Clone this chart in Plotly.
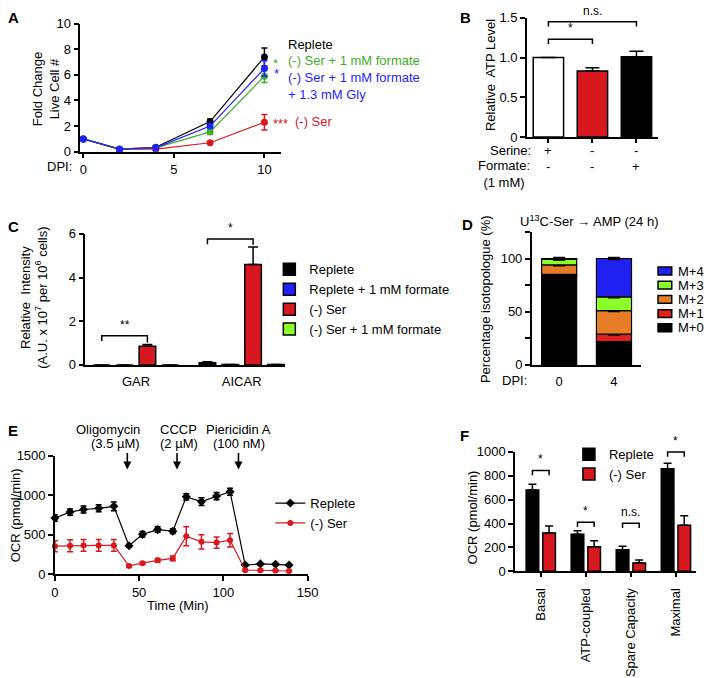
import plotly.graph_objects as go
import numpy as np

W, H = 717, 678
FONT = "Arial, Liberation Sans, sans-serif"
FS = 13

# ---------------- DATA ----------------
# Panel A: fold change live cell number vs days post infection
a_dpi = [0, 2, 4, 7, 10]
a_replete = [1.0, 0.2, 0.35, 2.35, 7.4]
a_replete_err = [0.05, 0.03, 0.1, 0.2, 0.7]
a_ser_formate = [1.0, 0.2, 0.3, 1.55, 5.9]
a_ser_formate_err = [0.05, 0.03, 0.05, 0.2, 0.5]
a_ser_formate_gly = [1.0, 0.2, 0.3, 2.0, 6.5]
a_ser_formate_gly_err = [0.05, 0.03, 0.05, 0.15, 0.6]
a_ser = [1.0, 0.2, 0.2, 0.7, 2.3]
a_ser_err = [0.05, 0.03, 0.03, 0.1, 0.6]

# Panel B: relative ATP level
b_conditions = ["Replete", "(-) Ser", "(-) Ser + formate"]
b_atp = [1.0, 0.83, 1.01]
b_atp_err = [0.0, 0.04, 0.07]
b_serine = ["+", "-", "-"]
b_formate = ["-", "-", "+"]
b_sig_pairs = [(0, 1, 1.23, "*"), (0, 2, 1.45, "n.s.")]

# Panel C: GAR / AICAR relative intensity
c_metabolites = ["GAR", "AICAR"]
c_series = ["Replete", "Replete + 1 mM formate", "(-) Ser", "(-) Ser + 1 mM formate"]
c_values = [[0.0, 0.1], [0.0, 0.02], [0.85, 4.6], [0.0, 0.02]]
c_errors = [[0.0, 0.05], [0.0, 0.0], [0.08, 0.8], [0.0, 0.0]]
c_sig = [(0, 1.34, "**"), (1, 5.77, "*")]

# Panel D: isotopologue distribution of AMP from U13C-Ser
d_dpi = ["0", "4"]
d_isotopologues = ["M+0", "M+1", "M+2", "M+3", "M+4"]
d_m0 = [84.0, 22.0]
d_m1 = [1.0, 7.0]
d_m2 = [9.0, 22.0]
d_m3 = [5.5, 13.0]
d_m4 = [0.5, 36.0]
d_err = [1.0, 1.0]

# Panel E: OCR time course
e_time = [0, 9, 17, 26, 35, 44, 52, 61, 70, 78, 87, 96, 104, 113, 122, 131, 139]
e_replete = [712, 787, 820, 835, 860, 360, 505, 565, 545, 980, 920, 990, 1045, 115, 130, 125, 115]
e_replete_err = [40, 40, 45, 45, 55, 20, 35, 35, 30, 40, 50, 45, 45, 10, 10, 10, 10]
e_ser = [355, 360, 365, 365, 365, 105, 140, 175, 200, 480, 410, 400, 430, 50, 50, 45, 40]
e_ser_err = [70, 75, 75, 75, 75, 15, 15, 25, 30, 120, 90, 70, 85, 12, 10, 10, 10]
e_injections = ["Oligomycin", "CCCP", "Piericidin A"]
e_doses = ["(3.5 µM)", "(2 µM)", "(100 nM)"]
e_injection_time = [43, 72.5, 109]

# Panel F: OCR parameters
f_params = ["Basal", "ATP-coupled", "Spare Capacity", "Maximal"]
f_replete = [680, 310, 180, 860]
f_replete_err = [50, 30, 30, 45]
f_ser = [320, 205, 70, 385]
f_ser_err = [60, 50, 25, 80]
f_sig = [(0, 845, "*"), (1, 410, "*"), (2, 402, "n.s."), (3, 1000, "*")]

# ---------------- LAYOUT GEOMETRY (pixels) ----------------
P = {
    "A": dict(x=(78, 283), y=(17, 148), xr=(-0.16, 10.92), yr=(0, 10)),
    "B": dict(x=(534, 668), y=(11, 133), xr=(-0.49, 2.49), yr=(0, 1.5)),
    "C": dict(x=(83, 287), y=(232, 366), xr=(-0.48, 1.41), yr=(0, 6)),
    "D": dict(x=(539, 651), y=(230, 366), xr=(-0.5, 1.5), yr=(0, 125)),
    "E": dict(x=(52, 310), y=(459, 580), xr=(0, 150), yr=(0, 1500)),
    "F": dict(x=(522, 707), y=(455, 577), xr=(-0.57, 3.45), yr=(0, 1000)),
}


def dom_x(p):
    return [P[p]["x"][0] / W, P[p]["x"][1] / W]


def dom_y(p):
    return [1 - P[p]["y"][1] / H, 1 - P[p]["y"][0] / H]


def paper(p, xv, yv):
    d = P[p]
    fx = (xv - d["xr"][0]) / (d["xr"][1] - d["xr"][0])
    fy = (yv - d["yr"][0]) / (d["yr"][1] - d["yr"][0])
    pxv = d["x"][0] + fx * (d["x"][1] - d["x"][0])
    pyv = d["y"][1] - fy * (d["y"][1] - d["y"][0])
    return pxv / W, 1 - pyv / H


def pp(x, y):
    return x / W, 1 - y / H


RED = "#d7191f"
BLUE = "#1f1fff"
GREEN_A = "#3fae2a"
GREEN = "#8cff2a"
ORANGE = "#e87d28"

fig = go.Figure()
shapes = []
annotations = []


def ann(x, y, text, color="black", size=FS, xanchor="center", yanchor="middle", angle=0, bold=False):
    xp, yp = pp(x, y)
    annotations.append(dict(x=xp, y=yp, xref="paper", yref="paper", text=("<b>%s</b>" % text) if bold else text,
                            showarrow=False, xanchor=xanchor, yanchor=yanchor, textangle=angle,
                            font=dict(family=FONT, size=size, color=color)))


def bracket(p, x0, x1, y, tip0, tip1, label, lsize=FS):
    X0, Y = paper(p, x0, y)
    X1, _ = paper(p, x1, y)
    _, T0 = paper(p, x0, tip0)
    _, T1 = paper(p, x1, tip1)
    shapes.append(dict(type="path", xref="paper", yref="paper",
                       path="M %f,%f L %f,%f L %f,%f L %f,%f" % (X0, T0, X0, Y, X1, Y, X1, T1),
                       line=dict(color="black", width=1.5)))
    annotations.append(dict(x=(X0 + X1) / 2, y=Y + 2 / H, xref="paper", yref="paper", text=label,
                            showarrow=False, xanchor="center", yanchor="bottom",
                            font=dict(family=FONT, size=lsize, color="black")))


# ---------------- PANEL A ----------------
for name, vals, errs, col in [("(-) Ser", a_ser, a_ser_err, RED),
                              ("Replete", a_replete, a_replete_err, "black"),
                              ("(-) Ser + 1 mM formate", a_ser_formate, a_ser_formate_err, GREEN_A),
                              ("(-) Ser + 1 mM formate + 1.3 mM Gly", a_ser_formate_gly, a_ser_formate_gly_err, BLUE)]:
    fig.add_trace(go.Scatter(x=a_dpi, y=vals, mode="lines+markers", name=name, showlegend=False,
                             line=dict(color=col, width=1.2), marker=dict(color=col, size=7),
                             error_y=dict(type="data", array=errs, color=col, thickness=1.5, width=3),
                             xaxis="x", yaxis="y", cliponaxis=False))

ann(288, 38, "Replete", "black", xanchor="left")
ann(277, 58, "*", GREEN_A, xanchor="center")
ann(288, 55, "(-) Ser + 1 mM formate", GREEN_A, xanchor="left")
ann(278, 68, "*", BLUE, xanchor="center")
ann(288, 72, "(-) Ser + 1 mM formate", BLUE, xanchor="left")
ann(288, 89, "+ 1.3 mM Gly", BLUE, xanchor="left")
ann(292, 119, "***", RED, xanchor="right")
ann(295, 117, "(-) Ser", RED, xanchor="left")
ann(72, 163, "DPI:", xanchor="right")
ann(43, 84, "Fold Change<br>Live Cell #", angle=-90)

# ---------------- PANEL B ----------------
fig.add_trace(go.Bar(x=[0, 1, 2], y=b_atp, width=0.69, showlegend=False,
                     marker=dict(color=["white", RED, "black"], line=dict(color="black", width=1.5)),
                     error_y=dict(type="data", array=b_atp_err, arrayminus=[0, 0, 0], symmetric=False,
                                  color="black", thickness=1.5, width=7),
                     xaxis="x2", yaxis="y2"))
for i0, i1, yv, lab in b_sig_pairs:
    bracket("B", i0, i1, yv, yv - 0.06, yv - 0.06, lab, lsize=12)
for i in range(3):
    xp, _ = paper("B", i, 0)
    ann(xp * W, 147, b_serine[i])
    ann(xp * W, 163, b_formate[i])
ann(540, 147, "Serine:", xanchor="right")
ann(511, 171, "Formate:<br>(1 mM)", xanchor="center")
ann(497, 70, "Relative  ATP Level", angle=-90)

# ---------------- PANEL C ----------------
c_colors = ["black", BLUE, RED, GREEN]
c_slot = 0.216
c_w = 0.157
for i, (name, vals, errs) in enumerate(zip(c_series, c_values, c_errors)):
    center = (i - 1.5) * c_slot
    fig.add_trace(go.Bar(x=[0, 1], y=vals, width=c_w, offset=center - c_w / 2, name=name,
                         marker=dict(color=c_colors[i], line=dict(color="black", width=1.5)),
                         error_y=dict(type="data", array=errs, arrayminus=[0, 0], symmetric=False,
                                      color="black", thickness=1.5, width=5),
                         xaxis="x3", yaxis="y3", legend="legend"))
for g, yv, lab in c_sig:
    x0 = g + (0 - 1.5) * c_slot
    x1 = g + (2 - 1.5) * c_slot
    top_red = c_values[2][g] + c_errors[2][g]
    bracket("C", x0, x1, yv, yv - 0.25, top_red + 0.1, lab, lsize=12)
ann(31, 297, "Relative  Intensity<br>(A.U. x 10<sup>7</sup> per 10<sup>6</sup> cells)", angle=-90)

# ---------------- PANEL D ----------------
d_layers = [d_m0, d_m1, d_m2, d_m3, d_m4]
d_colors = ["black", "#e01f1f", ORANGE, GREEN, "#2020f0"]
base = np.zeros(2)
for name, vals, col in zip(d_isotopologues, d_layers, d_colors):
    fig.add_trace(go.Bar(x=[0, 1], y=vals, base=base.copy(), width=0.64, name=name, showlegend=False,
                         marker=dict(color=col, line=dict(color="black", width=1.2)),
                         error_y=dict(type="data", array=d_err, color="black", thickness=1.2, width=6),
                         xaxis="x4", yaxis="y4"))
    base = base + np.array(vals)
# manual legend for D
d_leg_y = [328, 313.5, 299, 284.5, 270]
for name, col, yy in zip(d_isotopologues, d_colors, d_leg_y):
    x0, y0 = pp(668, yy - 4)
    x1, y1 = pp(682, yy + 4)
    shapes.append(dict(type="rect", xref="paper", yref="paper", x0=x0, x1=x1, y0=y0, y1=y1,
                       fillcolor=col, line=dict(color="black", width=1.5)))
    ann(686, yy, name, xanchor="left", size=13)
ann(598, 219, "U<sup>13</sup>C-Ser \u2192 AMP (24 h)")
ann(536, 382, "DPI:", xanchor="right")
ann(492, 299, "Percentage isotopologue (%)", angle=-90)

# ---------------- PANEL E ----------------
fig.add_trace(go.Scatter(x=e_time, y=e_replete, mode="lines+markers", name="Replete",
                         line=dict(color="black", width=1.2), marker=dict(color="black", size=7, symbol="diamond"),
                         error_y=dict(type="data", array=e_replete_err, color="black", thickness=1.5, width=3),
                         xaxis="x5", yaxis="y5", legend="legend2", cliponaxis=False))
fig.add_trace(go.Scatter(x=e_time, y=e_ser, mode="lines+markers", name="(-) Ser",
                         line=dict(color=RED, width=1.2), marker=dict(color=RED, size=6),
                         error_y=dict(type="data", array=e_ser_err, color=RED, thickness=1.5, width=3),
                         xaxis="x5", yaxis="y5", legend="legend2", cliponaxis=False))
e_label_x = [[106, 114], [178, 179], [240, 240]]
for name, dose, t, lx in zip(e_injections, e_doses, e_injection_time, e_label_x):
    ann(lx[0], 432, name)
    ann(lx[1], 446, dose)
    xa, _ = paper("E", t, 0)
    annotations.append(dict(x=xa, y=1 - 473 / H, xref="paper", yref="paper", ax=0, ay=-18,
                            text="", showarrow=True, arrowhead=2,
                            arrowsize=1, arrowwidth=1.6, arrowcolor="black"))
ann(12, 520, "OCR (pmol/min)", angle=-90)
ann(178, 612, "Time (Min)")

# ---------------- PANEL F ----------------
f_slot = 0.37
f_w = 0.28
for i, (name, vals, errs, col) in enumerate([("Replete", f_replete, f_replete_err, "black"),
                                             ("(-) Ser", f_ser, f_ser_err, RED)]):
    center = (i - 0.5) * f_slot
    fig.add_trace(go.Bar(x=list(range(4)), y=vals, width=f_w, offset=center - f_w / 2, name=name,
                         marker=dict(color=col, line=dict(color="black", width=1.5)),
                         error_y=dict(type="data", array=errs, arrayminus=[0] * 4, symmetric=False,
                                      color="black", thickness=1.5, width=4),
                         xaxis="x6", yaxis="y6", legend="legend3"))
for g, yv, lab in f_sig:
    bracket("F", g - 0.5 * f_slot, g + 0.5 * f_slot, yv, yv - 40, yv - 40, lab, lsize=12)
ann(478, 522, "OCR (pmol/min)", angle=-90)

# Panel letters
for letter, x, y in [("A", 10, 11), ("B", 471, 11), ("C", 10, 224), ("D", 473, 222), ("E", 9, 433), ("F", 470, 438)]:
    ann(x, y, letter, size=15, bold=True)

# ---------------- AXES ----------------
axis_common = dict(showgrid=False, zeroline=False, showline=True, linecolor="black", linewidth=1.5,
                   ticks="outside", ticklen=5, tickwidth=1.5, tickcolor="black",
                   tickfont=dict(family=FONT, size=FS, color="black"), fixedrange=True)


def xax(p, **kw):
    d = dict(axis_common)
    d.update(domain=dom_x(p), range=list(P[p]["xr"]))
    d.update(kw)
    return d


def yax(p, **kw):
    d = dict(axis_common)
    d.update(domain=dom_y(p), range=list(P[p]["yr"]))
    d.update(kw)
    return d


fig.update_layout(
    width=W, height=H, autosize=False, margin=dict(l=0, r=0, t=0, b=0),
    paper_bgcolor="white", plot_bgcolor="white", barmode="overlay",
    font=dict(family=FONT, size=FS, color="black"),
    xaxis=xax("A", anchor="y", tickvals=[0, 5, 10]),
    yaxis=yax("A", anchor="x", tickvals=[0, 2, 4, 6, 8, 10]),
    xaxis2=xax("B", anchor="y2", tickvals=[0, 1, 2], showticklabels=False, ticklen=4),
    yaxis2=yax("B", anchor="x2", tickvals=[0, 0.5, 1.0, 1.5], ticktext=["0", "0.5", "1.0", "1.5"]),
    xaxis3=xax("C", anchor="y3", tickvals=[0, 1], ticktext=c_metabolites, ticklen=4, tickcolor="rgba(0,0,0,0)"),
    yaxis3=yax("C", anchor="x3", tickvals=[0, 2, 4, 6]),
    xaxis4=xax("D", anchor="y4", tickvals=[0, 1], ticktext=d_dpi, ticklen=4, tickcolor="rgba(0,0,0,0)"),
    yaxis4=yax("D", anchor="x4", tickvals=[0, 25, 50, 75, 100, 125], ticktext=["0", "", "50", "", "100", ""]),
    xaxis5=xax("E", anchor="y5", tickvals=[0, 50, 100, 150]),
    yaxis5=yax("E", anchor="x5", tickvals=[0, 500, 1000, 1500]),
    xaxis6=xax("F", anchor="y6", tickvals=[0, 1, 2, 3], ticktext=f_params, tickangle=-90, ticklen=4,
               ticklabelstandoff=6),
    yaxis6=yax("F", anchor="x6", tickvals=[0, 200, 400, 600, 800, 1000]),
    legend=dict(x=271 / W, y=1 - 253 / H, xanchor="left", yanchor="top", bgcolor="rgba(0,0,0,0)",
                font=dict(family=FONT, size=FS), tracegroupgap=0),
    legend2=dict(x=272 / W, y=1 - 492 / H, xanchor="left", yanchor="top", bgcolor="rgba(0,0,0,0)",
                 font=dict(family=FONT, size=FS)),
    legend3=dict(x=577 / W, y=1 - 442 / H, xanchor="left", yanchor="top", bgcolor="rgba(0,0,0,0)",
                 font=dict(family=FONT, size=FS)),
    shapes=shapes, annotations=annotations,
)

fig.write_html(
    "out.html",
    config={"displayModeBar": False},
    post_script=(
        "document.documentElement.style.margin='0';"
        "document.body.style.margin='0';document.body.style.padding='0';"
        "document.documentElement.style.overflow='hidden';document.body.style.overflow='hidden';"
    ),
)
